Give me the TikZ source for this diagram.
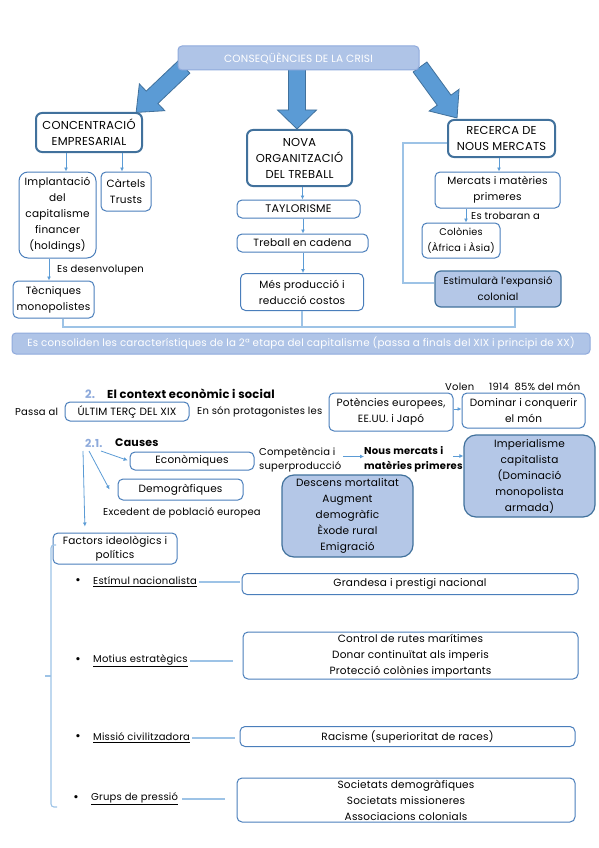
\documentclass[tikz,border=0pt]{standalone}
\usepackage{fontspec}
\setmainfont{Poppins}[LetterSpace=2]
\usetikzlibrary{arrows.meta,calc}
\definecolor{bord}{HTML}{4A7EBB}
\definecolor{bordd}{HTML}{41719C}
\definecolor{fillb}{HTML}{B4C7E7}
\definecolor{headf}{HTML}{AFC4E7}
\definecolor{headd}{HTML}{8FAADC}
\definecolor{arrc}{HTML}{5B9BD5}
\definecolor{linc}{HTML}{9DC3E6}
\definecolor{numc}{HTML}{8EAADB}
\definecolor{bigf}{HTML}{5B9BD5}
\definecolor{bigd}{HTML}{41719C}
\newcommand\bigarrow[5]{\begin{scope}[shift={(#1)},rotate=#2]
\draw[bigarr] (0,-8.5) -- ({#3-#5},-8.5) -- ({#3-#5},-#4) -- (#3,0) -- ({#3-#5},#4) -- ({#3-#5},8.5) -- (0,8.5) -- cycle;
\end{scope}}
\begin{document}
\begin{tikzpicture}[x=1pt,y=-1pt,
 bx/.style={draw=bord, line width=1pt, rounded corners=5pt, fill=white, align=center, inner sep=1pt, font=\fontsize{10.5}{16}\selectfont},
 bxs/.style={bx, draw=bordd, line width=2pt, rounded corners=6pt, font=\fontsize{11.5}{16}\selectfont},
 bxf/.style={bx, fill=fillb, draw=bordd, line width=1.2pt, rounded corners=12pt},
 hdbox/.style={fill=headf, draw=headd, line width=1pt, rounded corners=4pt, text=white, align=center, inner sep=1pt},
 arr/.style={draw=arrc, line width=0.8pt, -{Latex[length=4pt,width=4pt]}},
 lin/.style={draw=linc, line width=1.1pt},
 txt/.style={inner sep=0pt, anchor=west, font=\fontsize{10}{14}\selectfont, align=left},
 bul/.style={inner sep=0pt, font=\fontsize{13}{14}\selectfont},
 bigarr/.style={fill=bigf, draw=bigd, line width=0.8pt}]
\useasboundingbox (0,0) rectangle (599,848);
% big arrows
\bigarrow{297,66}{-90}{63}{19.5}{19}
\bigarrow{184,67}{-136.5}{66}{18.5}{22}
\bigarrow{420,67}{-54}{63}{18.5}{22}
% top part
\node[hdbox, minimum width=241pt, minimum height=24pt, font=\fontsize{10.5}{12}\selectfont] (top) at (298.5,58) {CONSEQÜÈNCIES DE LA CRISI};
\node[bxs, minimum width=106pt, minimum height=39pt] (conc) at (89,132.5) {CONCENTRACIÓ\\EMPRESARIAL};
\node[bxs, minimum width=105pt, minimum height=56pt] (nova) at (299.5,158) {NOVA\\ORGANITZACIÓ\\DEL TREBALL};
\node[bxs, minimum width=107pt, minimum height=37pt] (rec) at (501.5,138.5) {RECERCA DE\\NOUS MERCATS};
\node[bx, rounded corners=9pt, minimum width=77pt, minimum height=86pt] (impl) at (57.5,215) {Implantació\\del\\capitalisme\\financer\\(holdings)};
\node[bx, minimum width=50pt, minimum height=39pt] (cart) at (126,191.5) {Càrtels\\Trusts};
\node[bx, minimum width=81pt, minimum height=37pt] (tecn) at (53.5,299.5) {Tècniques\\monopolistes};
\node[bx, minimum width=123pt, minimum height=18pt, font=\fontsize{11}{14}\selectfont] (tay) at (298.5,209) {TAYLORISME};
\node[bx, minimum width=131pt, minimum height=18pt] (treb) at (302.5,243) {Treball en cadena};
\node[bx, minimum width=123pt, minimum height=37pt] (mes) at (302,292) {Més producció i\\reducció costos};
\node[bx, minimum width=125pt, minimum height=36pt] (merc) at (497.5,190) {Mercats i matèries\\primeres};
\node[bx, minimum width=78pt, minimum height=35pt, font=\fontsize{9.7}{16}\selectfont] (col) at (461,240.5) {Colònies\\(Àfrica i Àsia)};
\node[bxf, rounded corners=6pt, minimum width=126pt, minimum height=36pt, font=\fontsize{10}{16}\selectfont] (est) at (498,289) {Estimularà l'expansió\\colonial};
\node[hdbox, minimum width=578pt, minimum height=21pt, font=\fontsize{10.3}{12}\selectfont] (band) at (301,343.5) {Es consoliden les característiques de la 2ª etapa del capitalisme (passa a finals del XIX i principi de XX)};
\draw[arr] ([xshift=-23pt]conc.south) -- ([xshift=-23pt]conc.south |- impl.north);
\draw[arr] ([xshift=33pt]conc.south) -- ([xshift=33pt]conc.south |- cart.north);
\draw[arr] ([xshift=-8.5pt]impl.south) -- ([xshift=-8.5pt]impl.south |- tecn.north);
\node[txt] (desv) at (57,270) {Es desenvolupen};
\draw[arr] ([xshift=3pt]nova.south) -- ([xshift=3pt]nova.south |- tay.north);
\draw[arr] ([xshift=4.5pt]tay.south) -- ([xshift=4.5pt]tay.south |- treb.north);
\draw[arr] ([xshift=0.5pt]treb.south) -- ([xshift=0.5pt]treb.south |- mes.north);
\draw[arr] ([xshift=-2.5pt]rec.south) -- ([xshift=-2.5pt]rec.south |- merc.north);
\draw[arr] ([xshift=-31.5pt]merc.south) -- ([xshift=-31.5pt]merc.south |- col.north);
\node[txt] (trob) at (471,216) {Es trobaran a};
\draw[lin] ([yshift=-4.5pt]rec.west) -- ++(-44,0) |- ([yshift=6pt]est.west);
\coordinate (jl) at (63,327);
\coordinate (jr) at (515,327);
\draw[lin] ([xshift=9.5pt]tecn.south) -- (jl) -- (jr) -- (jr |- est.south);
\draw[lin] (mes.south) -- (mes.south |- jl);
% middle part
\node[txt, font=\bfseries\fontsize{11.5}{12}\selectfont, text=numc] (n2) at (85,394) {2.};
\node[txt, font=\bfseries\fontsize{11.5}{12}\selectfont] (t2) at (107,394) {El context econòmic i social};
\node[txt] (passa) at (15,412) {Passa al};
\node[bx, minimum width=124pt, minimum height=19pt] (ult) at (127,411.5) {ÚLTIM TERÇ DEL XIX};
\node[txt] (prot) at (197,412) {En són protagonistes les};
\node[bx, minimum width=124pt, minimum height=38pt] (pot) at (391,412) {Potències europees,\\EE.UU. i Japó};
\node[bx, minimum width=123pt, minimum height=35pt] (dom) at (523.5,410.5) {Dominar i conquerir\\el món};
\node[txt] (volen) at (445,387) {Volen};
\node[txt] (pct) at (489,387) {1914\ \ 85\% del món};
\draw[arr] ([yshift=3pt]pot.east) -- ([yshift=3pt]pot.east -| dom.west);
\node[txt, font=\bfseries\fontsize{11}{12}\selectfont, text=numc] (n21) at (85,443) {2.1.};
\node[txt, font=\bfseries\fontsize{11}{12}\selectfont] (caus) at (115,443) {Causes};
\node[bx, minimum width=124pt, minimum height=18pt] (econ) at (192,461) {Econòmiques};
\node[bx, minimum width=125pt, minimum height=21pt] (demo) at (180.5,489.5) {Demogràfiques};
\node[txt] (exc) at (103,513) {Excedent de població europea};
\node[bx, minimum width=124pt, minimum height=31pt, font=\fontsize{10.5}{14}\selectfont] (fact) at (115,548.5) {Factors ideològics i\\polítics};
\coordinate (s1) at (101,451);
\coordinate (s2) at (89,451);
\coordinate (s3) at (83,451);
\draw[arr, shorten >=2pt] (s1) -- (econ.west);
\draw[arr] (s2) -- ([xshift=-8pt]demo.west);
\draw[arr, shorten >=6pt] (s3) -- ([xshift=-30pt]fact.north);
\node[txt] (comp) at (259,459.5) {Competència i\\superproducció};
\node[txt, font=\bfseries\fontsize{10}{15}\selectfont] (nous) at (364,459) {Nous mercats i\\matèries primeres};
\node[bxf, minimum width=131pt, minimum height=82pt] (imp) at (529.5,476) {Imperialisme\\capitalista\\(Dominació\\monopolista\\armada)};
\node[bxf, minimum width=131pt, minimum height=82pt] (desc) at (347.5,516) {Descens mortalitat\\Augment\\demogràfic\\Èxode rural\\Emigració};
\draw[arr] ([yshift=3pt,xshift=2pt]comp.east) -- ([yshift=3pt]comp.east -| nous.west);
\coordinate (na) at (453,456);
\draw[arr] (na) -- (na -| imp.west);
% bottom part
\draw[lin, rounded corners=3pt] (56,545) -- (51,545) -- (51,807) -- (57,807);
\draw[lin] (51,676) -- (45,676);
\node[bul] (b1) at (78,582) {•};
\node[txt] (l1) at (93,582) {\underline{Estímul nacionalista}};
\node[bx, minimum width=336pt, minimum height=21pt] (gran) at (410,584) {Grandesa i prestigi nacional};
\node[bul] (b2) at (78,661) {•};
\node[txt] (l2) at (93,661) {\underline{Motius estratègics}};
\node[bx, minimum width=335pt, minimum height=47pt] (ctrl) at (410.5,655.5) {Control de rutes marítimes\\Donar continuïtat als imperis\\Protecció colònies importants};
\node[bul] (b3) at (78,738) {•};
\node[txt] (l3) at (93,738) {\underline{Missió civilitzadora}};
\node[bx, minimum width=335pt, minimum height=20pt] (rac) at (407.5,736.5) {Racisme (superioritat de races)};
\node[bul] (b4) at (76,799) {•};
\node[txt] (l4) at (91,799) {\underline{Grups de pressió}};
\node[bx, minimum width=338pt, minimum height=44pt] (soc) at (406,800) {Societats demogràfiques\\Societats missioneres\\Associacions colonials};
\draw[lin, shorten <=2pt, shorten >=2pt] (l1.east) -- (l1.east -| gran.west);
\draw[lin, shorten <=2pt, shorten >=10pt] (l2.east) -- (l2.east -| ctrl.west);
\draw[lin, shorten <=2pt, shorten >=5pt] (l3.east) -- (l3.east -| rac.west);
\draw[lin, shorten <=4pt, shorten >=12pt] (l4.east) -- (l4.east -| soc.west);
\end{tikzpicture}
\end{document}
